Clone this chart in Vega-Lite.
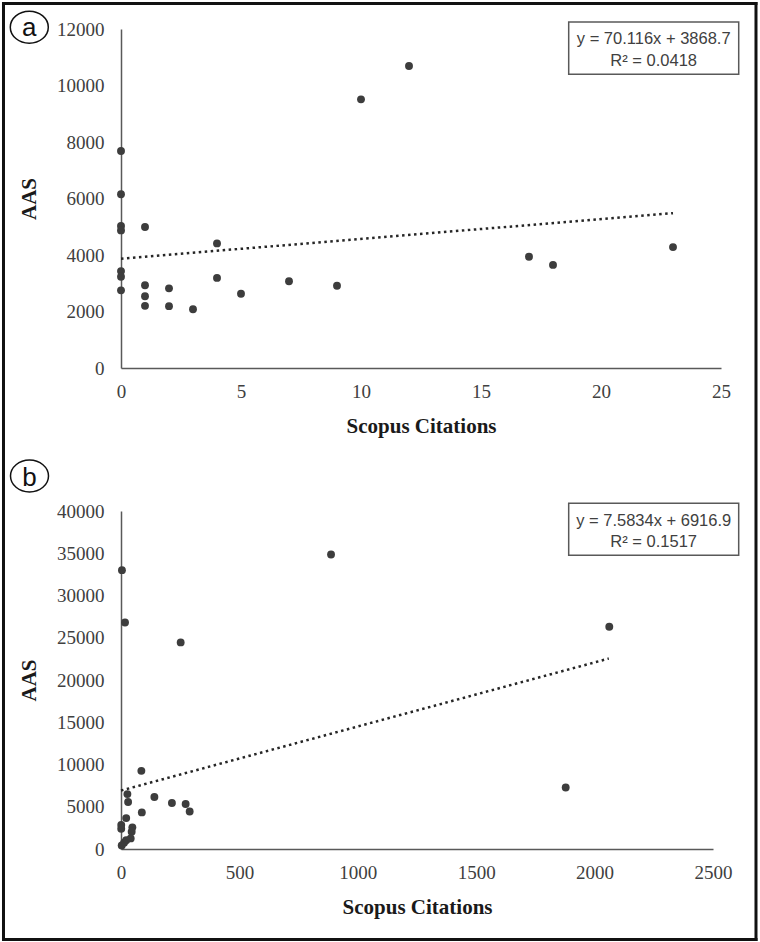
{
  "$schema": "https://vega.github.io/schema/vega-lite/v6.json",
  "background": "white",
  "padding": {"left": 1, "top": 1, "right": 0, "bottom": 0},
  "autosize": {"type": "pad"},
  "bounds": "flush",
  "spacing": 143,
  "config": {
    "view": {"stroke": null},
    "axis": {
      "grid": false, "ticks": false, "tickSize": 0,
      "domainColor": "#595959", "domainWidth": 1.5,
      "labelFont": "Liberation Serif", "labelFontSize": 19, "labelColor": "#404040",
      "labelFlush": false, "labelOverlap": false,
      "titleFont": "Liberation Serif", "titleFontSize": 21, "titleFontWeight": "bold", "titleColor": "#1a1a1a"
    },
    "axisX": {"labelPadding": 14, "titlePadding": 14},
    "axisY": {"labelPadding": 17, "titlePadding": 17}
  },
  "vconcat": [
    {
      "width": 600, "height": 339,
      "layer": [
        {"data": {"values": [{}]}, "mark": {"type": "rule", "strokeWidth": 3, "color": "#111111", "strokeCap": "square"},
         "encoding": {"x": {"datum": -4.896, "type": "quantitative", "scale": {"domain": [0, 25]}, "axis": {"values": [0, 5, 10, 15, 20, 25], "format": "d", "title": "Scopus Citations"}}, "x2": {"datum": 26.458},
                      "y": {"datum": 12903, "type": "quantitative", "scale": {"domain": [0, 12000]}, "axis": {"values": [0, 2000, 4000, 6000, 8000, 10000, 12000], "format": "d", "title": "AAS"}}}},
        {"data": {"values": [{}]}, "mark": {"type": "rule", "strokeWidth": 3, "color": "#111111", "strokeCap": "square"},
         "encoding": {"x": {"datum": -4.896, "type": "quantitative", "scale": {"domain": [0, 25]}, "axis": {"values": [0, 5, 10, 15, 20, 25], "format": "d", "title": "Scopus Citations"}},
                      "y": {"datum": 12903, "type": "quantitative", "scale": {"domain": [0, 12000]}, "axis": {"values": [0, 2000, 4000, 6000, 8000, 10000, 12000], "format": "d", "title": "AAS"}}, "y2": {"datum": -20230}}},
        {"data": {"values": [{}]}, "mark": {"type": "rule", "strokeWidth": 3, "color": "#111111", "strokeCap": "square"},
         "encoding": {"x": {"datum": 26.458, "type": "quantitative", "scale": {"domain": [0, 25]}, "axis": {"values": [0, 5, 10, 15, 20, 25], "format": "d", "title": "Scopus Citations"}},
                      "y": {"datum": 12903, "type": "quantitative", "scale": {"domain": [0, 12000]}, "axis": {"values": [0, 2000, 4000, 6000, 8000, 10000, 12000], "format": "d", "title": "AAS"}}, "y2": {"datum": -20230}}},
        {"data": {"values": [{}]}, "mark": {"type": "point", "shape": "M-1,0A1,0.84,0,1,0,1,0A1,0.84,0,1,0,-1,0Z", "size": 1444, "filled": false, "stroke": "#111111", "strokeWidth": 1.5, "opacity": 1},
         "encoding": {"x": {"datum": -3.821, "type": "quantitative", "scale": {"domain": [0, 25]}, "axis": {"values": [0, 5, 10, 15, 20, 25], "format": "d", "title": "Scopus Citations"}},
                      "y": {"datum": 12064, "type": "quantitative", "scale": {"domain": [0, 12000]}, "axis": {"values": [0, 2000, 4000, 6000, 8000, 10000, 12000], "format": "d", "title": "AAS"}}}},
        {"data": {"values": [{}]}, "mark": {"type": "text", "text": "a", "font": "Liberation Sans", "fontSize": 26, "color": "#111111", "align": "center", "baseline": "alphabetic"},
         "encoding": {"x": {"datum": -3.821, "type": "quantitative", "scale": {"domain": [0, 25]}, "axis": {"values": [0, 5, 10, 15, 20, 25], "format": "d", "title": "Scopus Citations"}},
                      "y": {"datum": 11752, "type": "quantitative", "scale": {"domain": [0, 12000]}, "axis": {"values": [0, 2000, 4000, 6000, 8000, 10000, 12000], "format": "d", "title": "AAS"}}}},
        {"data": {"values": [{}]}, "mark": {"type": "rect", "fill": "white", "stroke": "#595959", "strokeWidth": 1.5},
         "encoding": {"x": {"datum": 18.654, "type": "quantitative", "scale": {"domain": [0, 25]}, "axis": {"values": [0, 5, 10, 15, 20, 25], "format": "d", "title": "Scopus Citations"}}, "x2": {"datum": 25.738},
                      "y": {"datum": 12248, "type": "quantitative", "scale": {"domain": [0, 12000]}, "axis": {"values": [0, 2000, 4000, 6000, 8000, 10000, 12000], "format": "d", "title": "AAS"}}, "y2": {"datum": 10396}}},
        {"data": {"values": [{}]}, "mark": {"type": "text", "text": "y = 70.116x + 3868.7", "font": "Liberation Sans", "fontSize": 16.5, "color": "#404040", "align": "center", "baseline": "alphabetic"},
         "encoding": {"x": {"datum": 22.196, "type": "quantitative", "scale": {"domain": [0, 25]}, "axis": {"values": [0, 5, 10, 15, 20, 25], "format": "d", "title": "Scopus Citations"}},
                      "y": {"datum": 11480, "type": "quantitative", "scale": {"domain": [0, 12000]}, "axis": {"values": [0, 2000, 4000, 6000, 8000, 10000, 12000], "format": "d", "title": "AAS"}}}},
        {"data": {"values": [{}]}, "mark": {"type": "text", "text": "R² = 0.0418", "font": "Liberation Sans", "fontSize": 16.5, "color": "#404040", "align": "center", "baseline": "alphabetic"},
         "encoding": {"x": {"datum": 22.196, "type": "quantitative", "scale": {"domain": [0, 25]}, "axis": {"values": [0, 5, 10, 15, 20, 25], "format": "d", "title": "Scopus Citations"}},
                      "y": {"datum": 10690, "type": "quantitative", "scale": {"domain": [0, 12000]}, "axis": {"values": [0, 2000, 4000, 6000, 8000, 10000, 12000], "format": "d", "title": "AAS"}}}},
        {"data": {"values": [{"cit": 0, "aas": 3868.7}, {"cit": 23, "aas": 5481.4}]},
         "mark": {"type": "line", "color": "#262626", "strokeWidth": 2.5, "strokeDash": [2.5, 3.5]},
         "encoding": {"x": {"field": "cit", "type": "quantitative", "scale": {"domain": [0, 25]}, "axis": {"values": [0, 5, 10, 15, 20, 25], "format": "d", "title": "Scopus Citations"}},
                      "y": {"field": "aas", "type": "quantitative", "scale": {"domain": [0, 12000]}, "axis": {"values": [0, 2000, 4000, 6000, 8000, 10000, 12000], "format": "d", "title": "AAS"}}}},
        {"data": {"values": [
          {"cit": 0, "aas": 7680}, {"cit": 0, "aas": 6150}, {"cit": 0, "aas": 5030}, {"cit": 0, "aas": 4870},
          {"cit": 0, "aas": 3430}, {"cit": 0, "aas": 3230}, {"cit": 0, "aas": 2750},
          {"cit": 1, "aas": 4990}, {"cit": 1, "aas": 2930}, {"cit": 1, "aas": 2540}, {"cit": 1, "aas": 2200},
          {"cit": 2, "aas": 2820}, {"cit": 2, "aas": 2190}, {"cit": 3, "aas": 2080},
          {"cit": 4, "aas": 4410}, {"cit": 4, "aas": 3190}, {"cit": 5, "aas": 2630}, {"cit": 7, "aas": 3070},
          {"cit": 9, "aas": 2910}, {"cit": 10, "aas": 9510}, {"cit": 12, "aas": 10690},
          {"cit": 17, "aas": 3940}, {"cit": 18, "aas": 3650}, {"cit": 23, "aas": 4280}
        ]},
         "mark": {"type": "circle", "size": 62, "color": "#3d3d3d", "opacity": 1},
         "encoding": {
           "x": {"field": "cit", "type": "quantitative", "scale": {"domain": [0, 25]}, "axis": {"values": [0, 5, 10, 15, 20, 25], "format": "d", "title": "Scopus Citations"}},
           "y": {"field": "aas", "type": "quantitative", "scale": {"domain": [0, 12000]}, "axis": {"values": [0, 2000, 4000, 6000, 8000, 10000, 12000], "format": "d", "title": "AAS"}}
         }}
      ]
    },
    {
      "width": 592, "height": 338,
      "layer": [
        {"data": {"values": [{}]}, "mark": {"type": "rule", "strokeWidth": 3, "color": "#111111", "strokeCap": "square"},
         "encoding": {"x": {"datum": -496.2, "type": "quantitative", "scale": {"domain": [0, 2500]}, "axis": {"values": [0, 500, 1000, 1500, 2000, 2500], "format": "d", "title": "Scopus Citations"}}, "x2": {"datum": 2681.6},
                      "y": {"datum": -10710, "type": "quantitative", "scale": {"domain": [0, 40000]}, "axis": {"values": [0, 5000, 10000, 15000, 20000, 25000, 30000, 35000, 40000], "format": "d", "title": "AAS"}}}},
        {"data": {"values": [{}]}, "mark": {"type": "point", "shape": "M-1,0A1,0.84,0,1,0,1,0A1,0.84,0,1,0,-1,0Z", "size": 1444, "filled": false, "stroke": "#111111", "strokeWidth": 1.5, "opacity": 1},
         "encoding": {"x": {"datum": -386.4, "type": "quantitative", "scale": {"domain": [0, 2500]}, "axis": {"values": [0, 500, 1000, 1500, 2000, 2500], "format": "d", "title": "Scopus Citations"}},
                      "y": {"datum": 44142, "type": "quantitative", "scale": {"domain": [0, 40000]}, "axis": {"values": [0, 5000, 10000, 15000, 20000, 25000, 30000, 35000, 40000], "format": "d", "title": "AAS"}}}},
        {"data": {"values": [{}]}, "mark": {"type": "text", "text": "b", "font": "Liberation Sans", "fontSize": 26, "color": "#111111", "align": "center", "baseline": "alphabetic"},
         "encoding": {"x": {"datum": -386.4, "type": "quantitative", "scale": {"domain": [0, 2500]}, "axis": {"values": [0, 500, 1000, 1500, 2000, 2500], "format": "d", "title": "Scopus Citations"}},
                      "y": {"datum": 42959, "type": "quantitative", "scale": {"domain": [0, 40000]}, "axis": {"values": [0, 5000, 10000, 15000, 20000, 25000, 30000, 35000, 40000], "format": "d", "title": "AAS"}}}},
        {"data": {"values": [{}]}, "mark": {"type": "rect", "fill": "white", "stroke": "#595959", "strokeWidth": 1.5},
         "encoding": {"x": {"datum": 1890.6, "type": "quantitative", "scale": {"domain": [0, 2500]}, "axis": {"values": [0, 500, 1000, 1500, 2000, 2500], "format": "d", "title": "Scopus Citations"}}, "x2": {"datum": 2608.5},
                      "y": {"datum": 40911, "type": "quantitative", "scale": {"domain": [0, 40000]}, "axis": {"values": [0, 5000, 10000, 15000, 20000, 25000, 30000, 35000, 40000], "format": "d", "title": "AAS"}}, "y2": {"datum": 34757}}},
        {"data": {"values": [{}]}, "mark": {"type": "text", "text": "y = 7.5834x + 6916.9", "font": "Liberation Sans", "fontSize": 16.5, "color": "#404040", "align": "center", "baseline": "alphabetic"},
         "encoding": {"x": {"datum": 2249.6, "type": "quantitative", "scale": {"domain": [0, 2500]}, "axis": {"values": [0, 500, 1000, 1500, 2000, 2500], "format": "d", "title": "Scopus Citations"}},
                      "y": {"datum": 38225, "type": "quantitative", "scale": {"domain": [0, 40000]}, "axis": {"values": [0, 5000, 10000, 15000, 20000, 25000, 30000, 35000, 40000], "format": "d", "title": "AAS"}}}},
        {"data": {"values": [{}]}, "mark": {"type": "text", "text": "R² = 0.1517", "font": "Liberation Sans", "fontSize": 16.5, "color": "#404040", "align": "center", "baseline": "alphabetic"},
         "encoding": {"x": {"datum": 2249.6, "type": "quantitative", "scale": {"domain": [0, 2500]}, "axis": {"values": [0, 500, 1000, 1500, 2000, 2500], "format": "d", "title": "Scopus Citations"}},
                      "y": {"datum": 35740, "type": "quantitative", "scale": {"domain": [0, 40000]}, "axis": {"values": [0, 5000, 10000, 15000, 20000, 25000, 30000, 35000, 40000], "format": "d", "title": "AAS"}}}},
        {"data": {"values": [{"cit": 0, "aas": 6916.9}, {"cit": 2060, "aas": 22538.7}]},
         "mark": {"type": "line", "color": "#262626", "strokeWidth": 2.5, "strokeDash": [2.5, 3.5]},
         "encoding": {"x": {"field": "cit", "type": "quantitative", "scale": {"domain": [0, 2500]}, "axis": {"values": [0, 500, 1000, 1500, 2000, 2500], "format": "d", "title": "Scopus Citations"}},
                      "y": {"field": "aas", "type": "quantitative", "scale": {"domain": [0, 40000]}, "axis": {"values": [0, 5000, 10000, 15000, 20000, 25000, 30000, 35000, 40000], "format": "d", "title": "AAS"}}}},
        {"data": {"values": [
          {"cit": 4, "aas": 33000}, {"cit": 17, "aas": 26800}, {"cit": 252, "aas": 24450}, {"cit": 887, "aas": 34850},
          {"cit": 2062, "aas": 26300}, {"cit": 1878, "aas": 7280}, {"cit": 86, "aas": 9250}, {"cit": 27, "aas": 6500},
          {"cit": 30, "aas": 5560}, {"cit": 141, "aas": 6150}, {"cit": 215, "aas": 5440}, {"cit": 273, "aas": 5320},
          {"cit": 290, "aas": 4440}, {"cit": 88, "aas": 4330}, {"cit": 22, "aas": 3660}, {"cit": 1, "aas": 2840},
          {"cit": 1, "aas": 2400}, {"cit": 48, "aas": 2560}, {"cit": 45, "aas": 2050}, {"cit": 41, "aas": 1250},
          {"cit": 22, "aas": 1050}, {"cit": 13, "aas": 750}, {"cit": 3, "aas": 420}
        ]},
         "mark": {"type": "circle", "size": 62, "color": "#3d3d3d", "opacity": 1},
         "encoding": {
           "x": {"field": "cit", "type": "quantitative", "scale": {"domain": [0, 2500]}, "axis": {"values": [0, 500, 1000, 1500, 2000, 2500], "format": "d", "title": "Scopus Citations"}},
           "y": {"field": "aas", "type": "quantitative", "scale": {"domain": [0, 40000]}, "axis": {"values": [0, 5000, 10000, 15000, 20000, 25000, 30000, 35000, 40000], "format": "d", "title": "AAS"}}
         }}
      ]
    }
  ]
}
